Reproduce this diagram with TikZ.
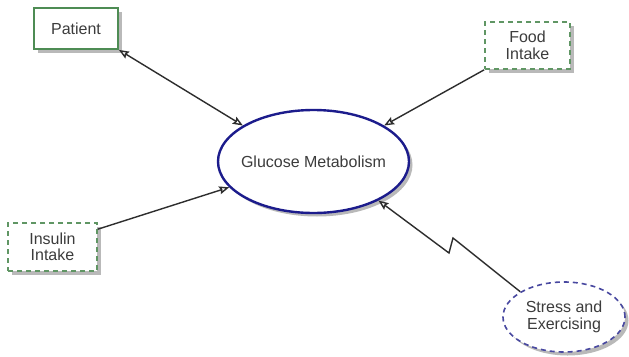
\documentclass[tikz,border=0pt]{standalone}
\usepackage{fontspec}
\setmainfont{Liberation Sans}
\usetikzlibrary{shapes.geometric,shadows,arrows.meta}
\definecolor{boxgreen}{RGB}{78,140,84}
\definecolor{dashgreen}{RGB}{96,150,100}
\definecolor{navy}{RGB}{28,28,140}
\definecolor{dashblue}{RGB}{72,72,160}
\definecolor{txt}{RGB}{60,60,60}
\definecolor{conn}{RGB}{45,45,45}
\tikzset{
  lbl/.style={font=\fontsize{16}{16.5}\selectfont, text=txt, align=center, inner sep=0pt},
  shd/.style={drop shadow={shadow xshift=3.5pt, shadow yshift=-3.5pt, fill=gray!55, opacity=1}},
  solidbox/.style={lbl, rectangle, draw=boxgreen, line width=1.8pt, fill=white, shd},
  dashbox/.style={lbl, rectangle, draw=dashgreen, line width=1.6pt, dash pattern=on 5pt off 4pt, fill=white, shd},
  mainell/.style={lbl, ellipse, draw=navy, line width=2.4pt, fill=white, shd, inner xsep=-12pt},
  dashell/.style={lbl, ellipse, draw=dashblue, line width=1.6pt, dash pattern=on 5pt off 4pt, fill=white, shd},
  conn/.style={draw=conn, line width=1.4pt},
  tip/.style={conn, -{Stealth[open, length=10pt, width=8pt, inset=1.5pt]}},
  bothtip/.style={conn, {Stealth[open, length=10pt, width=8pt, inset=1.5pt]}-{Stealth[open, length=10pt, width=8pt, inset=1.5pt]}}
}
\begin{document}
\begin{tikzpicture}[x=1pt,y=-1pt]
\useasboundingbox (0,0) rectangle (629,356);
\fill[white] (0,0) rectangle (629,356);
\node[solidbox, minimum width=84pt, minimum height=41pt] (pat) at (76,28.5) {Patient};
\node[dashbox, minimum width=85pt, minimum height=47pt] (food) at (527.5,45.5) {Food\\Intake};
\node[dashbox, minimum width=89pt, minimum height=48pt] (ins) at (52.5,247) {Insulin\\Intake};
\node[mainell, minimum width=191pt, minimum height=103pt] (gm) at (313.5,161.5) {Glucose Metabolism};
\node[dashell, minimum width=122pt, minimum height=70pt] (se) at (564,317) {Stress and\\Exercising};
\coordinate (z1) at (453,238);
\coordinate (z2) at (449,253);
\draw[bothtip] (pat.south east) -- (gm.153);
\draw[tip] (food.south west) -- (gm.27);
\draw[tip] ([yshift=-7pt]ins.north east) -- (gm.197);
\draw[tip] (se.150) -- (z1) -- (z2) -- (gm.329);
\end{tikzpicture}
\end{document}
